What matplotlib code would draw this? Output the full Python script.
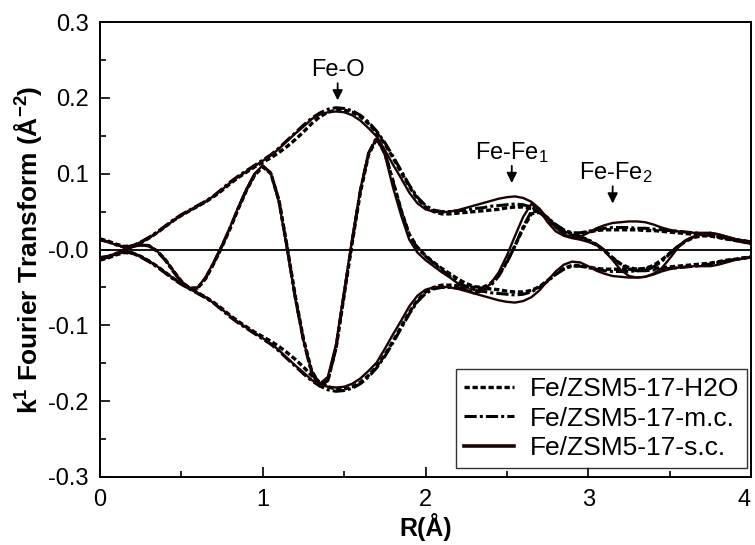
import numpy as np
import matplotlib
matplotlib.use("Agg")
import matplotlib.pyplot as plt
from matplotlib.ticker import MultipleLocator, FixedLocator

plt.rcParams['font.family'] = ['Liberation Sans', 'DejaVu Sans']
plt.rcParams['mathtext.fontset'] = 'custom'
plt.rcParams['mathtext.rm'] = 'Liberation Sans'
plt.rcParams['mathtext.bf'] = 'Liberation Sans:bold'
plt.rcParams['mathtext.it'] = 'Liberation Sans:italic'

# R grid (Angstrom), 0.05 steps
r = np.round(np.arange(0, 4.0001, 0.05), 2)

# Fe/ZSM5-17-s.c. : magnitude and imaginary part
mag_sc = [0.012, 0.010, 0.006, 0.003, 0.004, 0.009, 0.015, 0.022, 0.030, 0.038,
          0.045, 0.051, 0.057, 0.063, 0.071, 0.079, 0.088, 0.096, 0.103, 0.110,
          0.117, 0.124, 0.133, 0.143, 0.153, 0.162, 0.172, 0.178, 0.181, 0.182,
          0.181, 0.177, 0.170, 0.160, 0.149, 0.131, 0.112, 0.094, 0.075, 0.061,
          0.053, 0.050, 0.049, 0.050, 0.052, 0.055, 0.058, 0.061, 0.064, 0.067,
          0.069, 0.070, 0.068, 0.063, 0.054, 0.041, 0.029, 0.020, 0.016, 0.017,
          0.022, 0.028, 0.032, 0.035, 0.036, 0.037, 0.037, 0.036, 0.033, 0.029,
          0.026, 0.024, 0.023, 0.022, 0.022, 0.022, 0.020, 0.017, 0.014, 0.012,
          0.010]
im_sc = [-0.010, -0.009, -0.005, 0.000, 0.004, 0.006, 0.005, -0.002, -0.013, -0.028,
         -0.042, -0.051, -0.050, -0.036, -0.016, 0.006, 0.030, 0.056, 0.080, 0.100,
         0.111, 0.100, 0.062, 0.000, -0.065, -0.120, -0.160, -0.177, -0.168, -0.125,
         -0.055, 0.015, 0.080, 0.127, 0.147, 0.125, 0.082, 0.045, 0.013, -0.004,
         -0.014, -0.022, -0.030, -0.037, -0.045, -0.053, -0.058, -0.055, -0.045, -0.030,
         -0.008, 0.018, 0.043, 0.060, 0.052, 0.036, 0.024, 0.018, 0.015, 0.013,
         0.010, 0.006, -0.002, -0.014, -0.027, -0.035, -0.037, -0.036, -0.032, -0.025,
         -0.012, 0.002, 0.012, 0.017, 0.020, 0.022, 0.020, 0.017, 0.014, 0.011,
         0.008]

# Fe/ZSM5-17-H2O
mag_h2o = [0.014, 0.011, 0.007, 0.004, 0.005, 0.009, 0.015, 0.022, 0.030, 0.038,
           0.045, 0.051, 0.057, 0.063, 0.070, 0.078, 0.087, 0.095, 0.102, 0.109,
           0.115, 0.121, 0.128, 0.136, 0.145, 0.155, 0.166, 0.175, 0.181, 0.184,
           0.184, 0.181, 0.175, 0.166, 0.154, 0.139, 0.121, 0.102, 0.083, 0.067,
           0.056, 0.050, 0.047, 0.047, 0.048, 0.049, 0.050, 0.051, 0.052, 0.053,
           0.055, 0.056, 0.056, 0.054, 0.049, 0.041, 0.032, 0.025, 0.021, 0.021,
           0.023, 0.025, 0.026, 0.026, 0.026, 0.026, 0.026, 0.025, 0.025, 0.024,
           0.023, 0.022, 0.021, 0.020, 0.019, 0.018, 0.016, 0.014, 0.013, 0.011,
           0.010]
im_h2o = [-0.012, -0.010, -0.006, -0.001, 0.004, 0.006, 0.005, -0.002, -0.013, -0.028,
          -0.042, -0.051, -0.051, -0.038, -0.018, 0.004, 0.028, 0.054, 0.078, 0.098,
          0.109, 0.100, 0.064, 0.003, -0.062, -0.118, -0.160, -0.178, -0.172, -0.130,
          -0.060, 0.010, 0.076, 0.125, 0.146, 0.127, 0.090, 0.052, 0.020, 0.003,
          -0.008, -0.017, -0.025, -0.032, -0.039, -0.045, -0.049, -0.050, -0.045, -0.033,
          -0.016, 0.005, 0.028, 0.047, 0.049, 0.040, 0.030, 0.023, 0.019, 0.016,
          0.012, 0.006, -0.002, -0.011, -0.019, -0.024, -0.026, -0.025, -0.021, -0.014,
          -0.005, 0.004, 0.011, 0.016, 0.018, 0.018, 0.016, 0.014, 0.012, 0.010,
          0.008]

# Fe/ZSM5-17-m.c.
mag_mc = [0.013, 0.010, 0.006, 0.003, 0.005, 0.010, 0.016, 0.023, 0.031, 0.039,
          0.046, 0.052, 0.058, 0.064, 0.071, 0.080, 0.089, 0.097, 0.104, 0.111,
          0.118, 0.125, 0.134, 0.144, 0.154, 0.164, 0.173, 0.180, 0.185, 0.187,
          0.186, 0.183, 0.177, 0.168, 0.156, 0.141, 0.123, 0.104, 0.085, 0.069,
          0.058, 0.052, 0.050, 0.050, 0.051, 0.052, 0.054, 0.055, 0.057, 0.058,
          0.059, 0.060, 0.059, 0.056, 0.050, 0.042, 0.033, 0.026, 0.022, 0.022,
          0.024, 0.026, 0.028, 0.029, 0.029, 0.029, 0.028, 0.028, 0.027, 0.026,
          0.025, 0.024, 0.023, 0.022, 0.021, 0.019, 0.017, 0.015, 0.013, 0.012,
          0.010]
im_mc = [-0.011, -0.009, -0.005, 0.000, 0.004, 0.006, 0.005, -0.002, -0.014, -0.029,
         -0.043, -0.052, -0.051, -0.037, -0.017, 0.005, 0.029, 0.055, 0.079, 0.099,
         0.110, 0.101, 0.064, 0.002, -0.064, -0.120, -0.163, -0.180, -0.173, -0.130,
         -0.058, 0.012, 0.078, 0.127, 0.148, 0.128, 0.090, 0.051, 0.019, 0.002,
         -0.009, -0.018, -0.027, -0.035, -0.043, -0.049, -0.053, -0.054, -0.048, -0.035,
         -0.017, 0.005, 0.030, 0.050, 0.050, 0.042, 0.031, 0.024, 0.020, 0.017,
         0.013, 0.007, -0.001, -0.011, -0.020, -0.026, -0.028, -0.027, -0.023, -0.016,
         -0.006, 0.004, 0.012, 0.017, 0.019, 0.019, 0.017, 0.015, 0.012, 0.010,
         0.008]

labels = ['Fe/ZSM5-17-H2O', 'Fe/ZSM5-17-m.c.', 'Fe/ZSM5-17-s.c.']
xticks = [0, 1, 2, 3, 4]
xtick_labels = ['0', '1', '2', '3', '4']
yticks = [-0.3, -0.2, -0.1, 0.0, 0.1, 0.2, 0.3]
ytick_labels = ['-0.3', '-0.2', '-0.1', '-0.0', '0.1', '0.2', '0.3']

fig = plt.figure(figsize=(7.55, 5.45), dpi=100)
ax = fig.add_axes([0.1325, 0.1248, 0.8622, 0.8348])

ax.axhline(0, color='black', lw=1.3, zorder=1)

styles = [
    dict(ls=(0, (1.6, 0.8)), lw=2.4, color='black'),
    dict(ls=(0, (4, 1, 1, 1)), lw=2.2, color='black'),
    dict(ls='-', lw=1.7, color='#1c0303'),
]
series = [(mag_h2o, im_h2o), (mag_mc, im_mc), (mag_sc, im_sc)]
for (m, im), st, lab in zip(series, styles, labels):
    m = np.array(m)
    ax.plot(r, m, label=lab, **st)
    ax.plot(r, -m, **st)
    ax.plot(r, im, **st)

ax.set_xlim(0, 4)
ax.set_ylim(-0.3, 0.3)
ax.set_xticks(xticks)
xl = ax.set_xticklabels(xtick_labels)
xl[-1].set_horizontalalignment('right')
ax.xaxis.set_minor_locator(MultipleLocator(0.5))
ax.yaxis.set_major_locator(FixedLocator(yticks))
ax.set_yticklabels(ytick_labels)
ax.yaxis.set_minor_locator(MultipleLocator(0.05))
ax.tick_params(which='both', direction='in', labelsize=17, width=1.2)
ax.tick_params(which='major', length=7)
ax.tick_params(which='minor', length=4)
ax.tick_params(axis='y', pad=8)
ax.tick_params(axis='x', pad=9)
for s in ax.spines.values():
    s.set_linewidth(1.4)

ax.set_xlabel('R(Å)', fontsize=18, fontweight='bold', labelpad=1)
ax.set_ylabel(r'k$^{\mathbf{1}}$ Fourier Transform (Å$^{\mathbf{-2}}$)',
              fontsize=19, fontweight='bold', labelpad=3)

arrow = dict(arrowstyle='-|>', color='black', lw=1.3, mutation_scale=15)
ax.annotate('', xy=(1.46, 0.193), xytext=(1.46, 0.223), arrowprops=arrow)
ax.text(1.46, 0.222, 'Fe-O', ha='center', va='bottom', fontsize=17)
ax.annotate('', xy=(2.53, 0.084), xytext=(2.53, 0.114), arrowprops=arrow)
ax.text(2.53, 0.112, 'Fe-Fe$_1$', ha='center', va='bottom', fontsize=17)
ax.annotate('', xy=(3.15, 0.057), xytext=(3.15, 0.087), arrowprops=arrow)
ax.text(3.17, 0.085, 'Fe-Fe$_2$', ha='center', va='bottom', fontsize=17)

leg = ax.legend(loc='lower right', bbox_to_anchor=(0.994, 0.02), borderaxespad=0,
                fontsize=19, frameon=True, fancybox=False, handlelength=1.9,
                labelspacing=0.2, borderpad=0.3, handletextpad=0.6)
leg.get_frame().set_edgecolor('black')
leg.get_frame().set_linewidth(1.0)
leg.get_lines()[2].set_linewidth(2.6)

fig.savefig('out.png', dpi=100)
